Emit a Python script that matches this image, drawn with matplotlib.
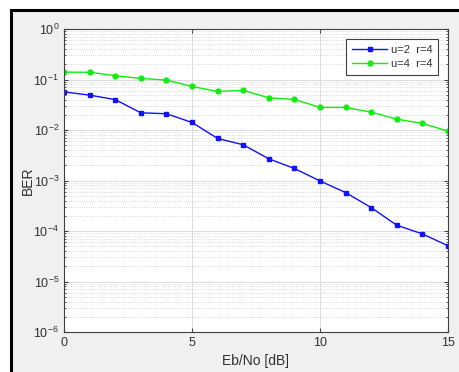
import numpy as np
import matplotlib
matplotlib.use("Agg")
import matplotlib.pyplot as plt
from matplotlib.patches import Rectangle
from matplotlib.ticker import LogLocator, NullFormatter

plt.rcParams['font.family'] = ['Liberation Sans', 'DejaVu Sans']
plt.rcParams['mathtext.fontset'] = 'custom'
plt.rcParams['mathtext.rm'] = 'Liberation Sans'

ebno = np.arange(0, 16)
ber_u2 = [0.057, 0.049, 0.040, 0.0219, 0.0210, 0.0141, 0.0068, 0.0051,
          0.00269, 0.00173, 0.00098, 0.000577, 0.000291, 0.00013, 8.75e-5, 5.1e-5]
ber_u4 = [0.140, 0.139, 0.119, 0.105, 0.0975, 0.073, 0.058, 0.0608,
          0.0435, 0.0403, 0.028, 0.028, 0.0226, 0.0164, 0.0135, 0.0095]
labels = ['u=2  r=4', 'u=4  r=4']

W, H = 459, 372
fig = plt.figure(figsize=(W / 100, H / 100), dpi=100, facecolor='white')
# grey figure panel with black frame
panel = Rectangle((10.5, -5), W + 20, H - 9.5 + 5, transform=None,
                  facecolor='#f0f0f0', edgecolor='black', linewidth=2.2, zorder=-10)
fig.patches.append(panel)

ax = fig.add_axes([64 / W, 40 / H, 384 / W, 303 / H])
ax.set_facecolor('white')

ax.semilogy(ebno, ber_u2, '-s', color='#1010ff', lw=1.0, ms=3.5, label=labels[0])
ax.semilogy(ebno, ber_u4, '-o', color='#10ee10', lw=1.0, ms=3.5, label=labels[1])

ax.set_xlim(0, 15)
ax.set_ylim(1e-6, 1)
ax.set_xticks([0, 5, 10, 15])
ax.yaxis.set_major_locator(LogLocator(base=10, numticks=10))
ax.yaxis.set_minor_locator(LogLocator(base=10, subs=np.arange(2, 10), numticks=20))
ax.yaxis.set_minor_formatter(NullFormatter())

ax.grid(True, which='major', color='#dcdcdc', lw=0.7)
ax.grid(True, which='minor', axis='y', color='#d0d0d0', lw=0.6, ls=':')
ax.set_axisbelow(True)

ax.tick_params(which='both', direction='in', top=True, right=True,
               labelsize=9, colors='#404040', labelcolor='#303030')
ax.tick_params(which='major', length=3)
ax.tick_params(which='minor', length=1.5)
for s in ax.spines.values():
    s.set_color('#404040')
    s.set_linewidth(0.8)

ax.set_xlabel('Eb/No [dB]', fontsize=10, color='#303030', labelpad=4)
ax.set_ylabel('BER', fontsize=10, color='#303030', labelpad=-1)

leg = ax.legend(loc='upper right', fontsize=8, fancybox=False, framealpha=1,
                edgecolor='#404040', borderaxespad=0.9, handlelength=3.2,
                borderpad=0.5, labelspacing=0.4, handletextpad=0.3)
leg.get_frame().set_linewidth(0.8)
for t in leg.get_texts():
    t.set_color('#303030')

fig.savefig('out.png', dpi=100, facecolor=fig.get_facecolor())
